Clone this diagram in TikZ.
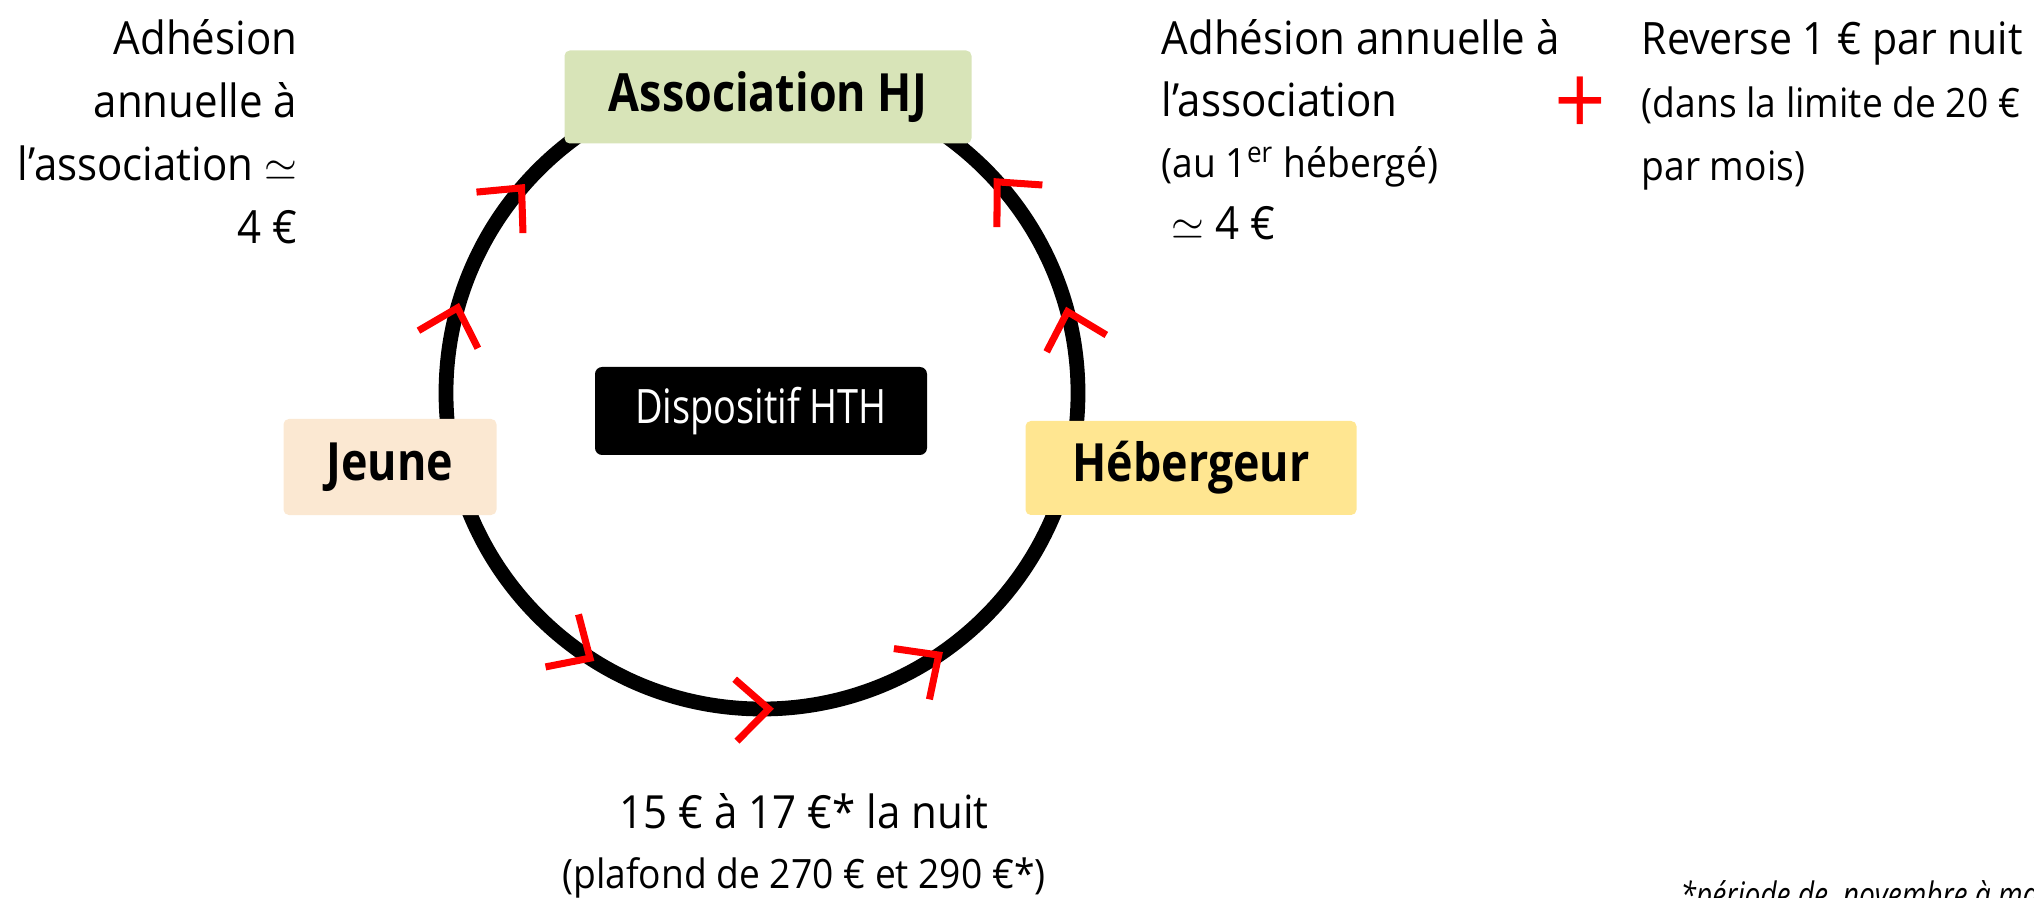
\documentclass[tikz,border=0pt]{standalone}
\usepackage{fontspec}
\setmainfont{Open Sans}[FakeStretch=0.92]
\newfontfamily\labelfont{Open Sans}[FakeStretch=0.85]
\newfontfamily\narrowfont{Open Sans}[FakeStretch=0.80]
\usetikzlibrary{arrows.meta,decorations.markings,positioning}
\definecolor{assogreen}{RGB}{216,228,184}
\definecolor{jeunepeach}{RGB}{251,232,210}
\definecolor{hebyellow}{RGB}{255,230,145}
\newcommand{\smalltxt}{\fontsize{11.5}{17.9}\selectfont}
\tikzset{money/.tip={Straight Barb[color=red, length=3.3mm, width=6.2mm, line width=2pt, sharp]}}

\begin{document}
\begin{tikzpicture}[
  box/.style={rounded corners=1.5pt, inner sep=0pt, font=\labelfont\fontsize{15}{18}\selectfont\bfseries},
  note/.style={inner sep=0pt, font=\fontsize{13}{17.9}\selectfont},
  ring/.style={line width=4.2pt, postaction={decorate}, decoration={markings,
    mark=at position 0.044 with {\arrow{money}},
    mark=at position 0.119 with {\arrow{money}},
    mark=at position 0.385 with {\arrowreversed{money}},
    mark=at position 0.454 with {\arrowreversed{money}},
    mark=at position 0.661 with {\arrow{money}},
    mark=at position 0.756 with {\arrow{money}},
    mark=at position 0.847 with {\arrow{money}}}}]
\useasboundingbox (0,0) rectangle (20.34,-8.98);
\coordinate (centre) at (7.62,-3.93);
\draw[ring] (centre) circle[radius=3.16];
%boxes
\node[box, fill=assogreen, minimum width=4.07cm, minimum height=0.93cm] (asso) at (7.68,-0.97) {Association HJ};
\node[box, fill=jeunepeach, minimum width=2.13cm, minimum height=0.96cm] (jeune) at (3.90,-4.67) {Jeune};
\node[box, fill=hebyellow, minimum width=3.31cm, minimum height=0.94cm] (heberg) at (11.91,-4.68) {Hébergeur};
\node[fill=black, text=white, rounded corners=2pt, minimum width=3.32cm, minimum height=0.88cm,
  font=\narrowfont\fontsize{13.5}{15}\selectfont] (hth) at (7.61,-4.11) {Dispositif HTH};
%texts
\node[note, align=right, anchor=north east] (adhjeune) at (2.98,-0.19) {Adhésion\\annuelle à\\l’association $\simeq$\\4 €};
\node[note, align=left, anchor=north west, font=\fontsize{13}{17.5}\selectfont] (adhheb) at (11.61,-0.19)
  {Adhésion annuelle à\\l’association\\{\smalltxt (au 1\textsuperscript{er} hébergé)}\\\hspace{0.1cm}$\simeq$ 4 €};
\node[text=red, inner sep=0pt, font=\fontsize{28}{28}\selectfont] (plus) at (15.80,-1.06) {+};
\node[note, align=left, anchor=north west, font=\fontsize{12.7}{17.9}\selectfont] (reverse) at (16.41,-0.21)
  {Reverse 1 € par nuit\\{\smalltxt (dans la limite de 20 €}\\{\smalltxt par mois)}};
\node[note, align=center, anchor=north, font=\fontsize{13}{17}\selectfont] (tarif) at (8.04,-7.93)
  {15 € à 17 €* la nuit\\{\smalltxt (plafond de 270 € et 290 €*)}};
\node[inner sep=0pt, anchor=north west, font=\narrowfont\fontsize{10}{12}\selectfont\itshape] (periode) at (16.80,-8.80)
  {*période de~ novembre à mars};
\end{tikzpicture}
\end{document}
